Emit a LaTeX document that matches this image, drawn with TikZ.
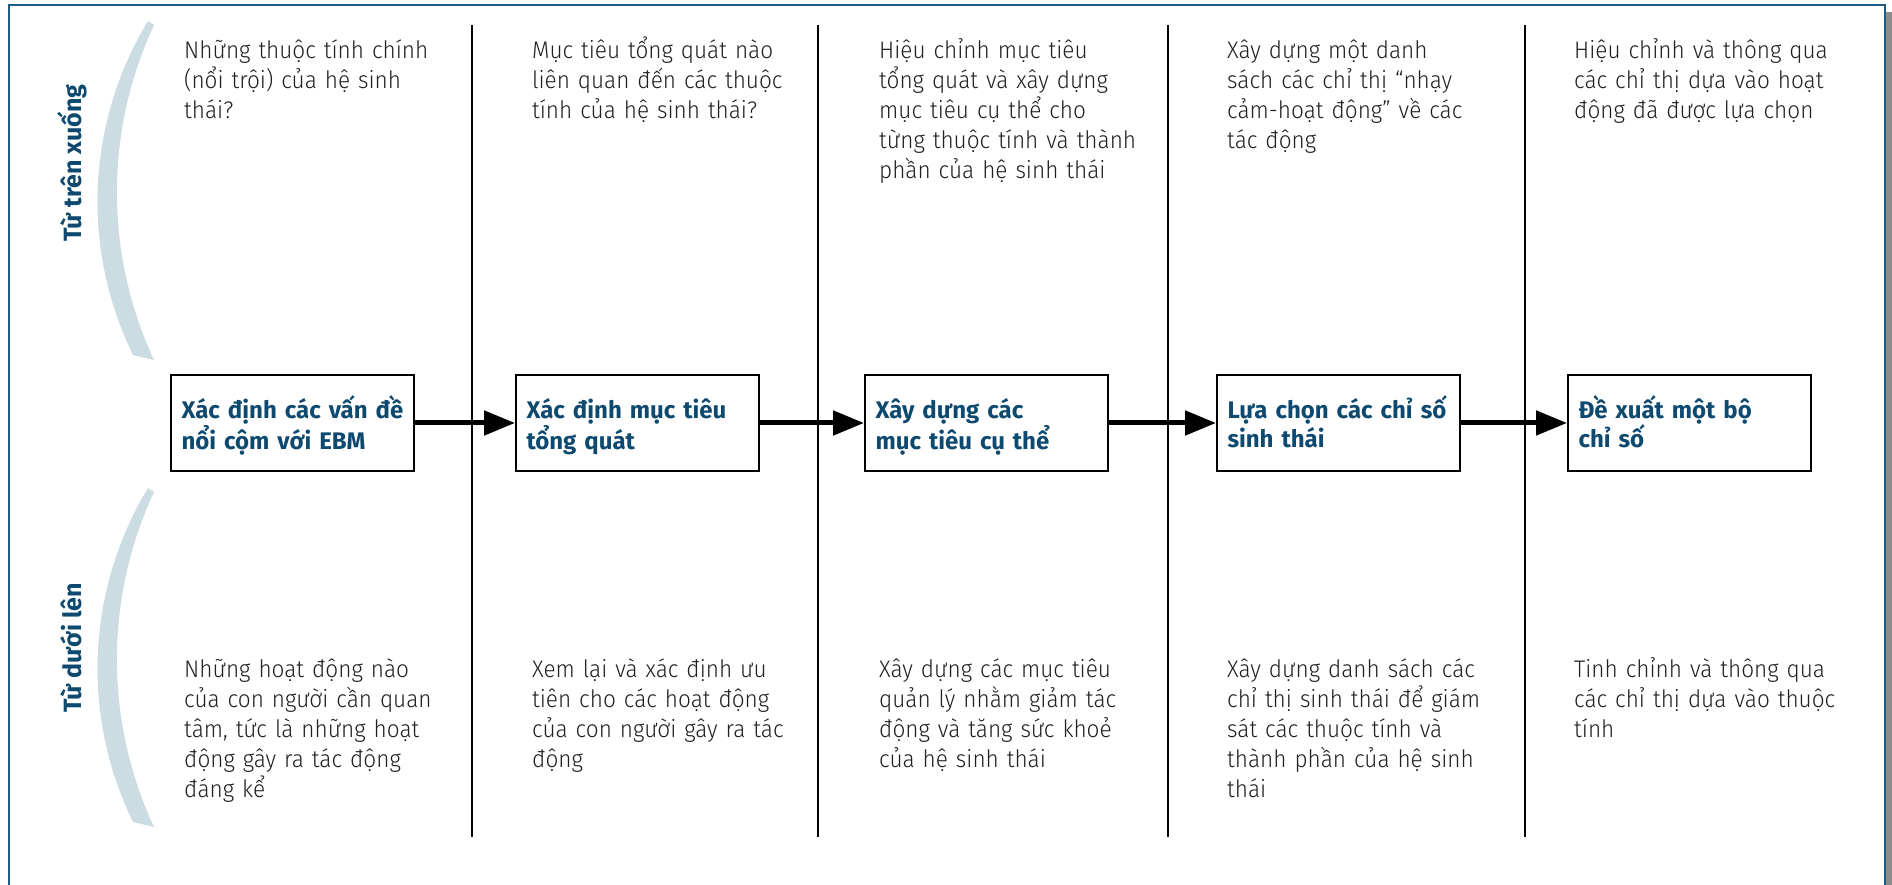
\documentclass[tikz,border=0pt]{standalone}
\usepackage{fontspec}
\setmainfont{Fira Sans Light}[FakeStretch=0.94]
\newfontfamily\headfont{Fira Sans}
\usetikzlibrary{arrows.meta,calc,positioning}
\definecolor{framecol}{RGB}{30,92,134}
\definecolor{headcol}{RGB}{14,74,112}
\definecolor{arccol}{RGB}{204,220,227}
\definecolor{bodycol}{RGB}{35,31,32}

\begin{document}
\begin{tikzpicture}[x=1pt,y=1pt,
	stepbox/.style={draw=black,line width=2pt,fill=white,anchor=north west,
		text width=222pt,inner xsep=10.5pt,inner ysep=0pt,text height=44pt,text depth=52pt,
		align=left,text=headcol,font=\headfont\bfseries\fontsize{24}{29}\selectfont},
	note/.style={anchor=base west,inner sep=0pt,text width=320pt,align=left,
		text=bodycol,font=\fontsize{24}{30}\selectfont},
	side/.style={rotate=90,anchor=base,inner sep=0pt,text=headcol,
		font=\headfont\bfseries\fontsize{25}{30}\selectfont},
	flow/.style={line width=5pt,-{Triangle[length=31pt,width=24pt]}},
	divider/.style={line width=2.6pt}]
	\useasboundingbox (0,0) rectangle (1892,885);
	\clip (0,0) rectangle (1892,885);
	% frame with shadow
	\fill[black!45] (16,-20) rectangle (1892,873);
	\draw[framecol,line width=2.5pt,fill=white] (9,-20) rectangle (1885,880);
	% the two crescents on the left
	\foreach \dy in {0,-467}{
		\begin{scope}[yshift=\dy]
			\fill[arccol] ($(446,683.3)+(148.8:348.5)$) arc[start angle=148.8,end angle=206.1,radius=348.5]
				-- ($(513.4,692.5)+(205:396.5)$) arc[start angle=205,end angle=155,radius=396.5] -- cycle;
		\end{scope}
	}
	\node[side] (topdown) at (81,722) {Từ trên xuống};
	\node[side] (bottomup) at (81,237) {Từ dưới lên};
	% column dividers
	\foreach \x in {472,818,1168,1525}
		\draw[divider] (\x,860) -- (\x,48);
	% steps
	\foreach \bx/\nm/\txt in {
		170/b1/{Xác định các vấn đề\\nổi cộm với EBM},
		515/b2/{Xác định mục tiêu\\tổng quát},
		864/b3/{Xây dựng các\\mục tiêu cụ thể},
		1216/b4/{Lựa chọn các chỉ số\\sinh thái},
		1567/b5/{Đề xuất một bộ\\chỉ số}}
		\node[stepbox] (\nm) at (\bx,511) {\txt};
	\foreach \a/\b in {b1/b2,b2/b3,b3/b4,b4/b5}
		\draw[flow] (\a.east) -- (\b.west);
	% top-down questions
	\foreach \x/\nm/\txt in {
		184/top1/{Những thuộc tính chính\\(nổi trội) của hệ sinh\\thái?},
		532/top2/{Mục tiêu tổng quát nào\\liên quan đến các thuộc\\tính của hệ sinh thái?},
		879/top3/{Hiệu chỉnh mục tiêu\\tổng quát và xây dựng\\mục tiêu cụ thể cho\\từng thuộc tính và thành\\phần của hệ sinh thái},
		1227/top4/{Xây dựng một danh\\sách các chỉ thị “nhạy\\cảm-hoạt động” về các\\tác động},
		1574/top5/{Hiệu chỉnh và thông qua\\các chỉ thị dựa vào hoạt\\động đã được lựa chọn}}
		\node[note] (\nm) at (\x,826) {\txt};
	% bottom-up questions
	\foreach \x/\nm/\txt in {
		184/bot1/{Những hoạt động nào\\của con người cần quan\\tâm, tức là những hoạt\\động gây ra tác động\\đáng kể},
		532/bot2/{Xem lại và xác định ưu\\tiên cho các hoạt động\\của con người gây ra tác\\động},
		879/bot3/{Xây dựng các mục tiêu\\quản lý nhằm giảm tác\\động và tăng sức khoẻ\\của hệ sinh thái},
		1227/bot4/{Xây dựng danh sách các\\chỉ thị sinh thái để giám\\sát các thuộc tính và\\thành phần của hệ sinh\\thái},
		1574/bot5/{Tinh chỉnh và thông qua\\các chỉ thị dựa vào thuộc\\tính}}
		\node[note] (\nm) at (\x,207) {\txt};
\end{tikzpicture}
\end{document}
